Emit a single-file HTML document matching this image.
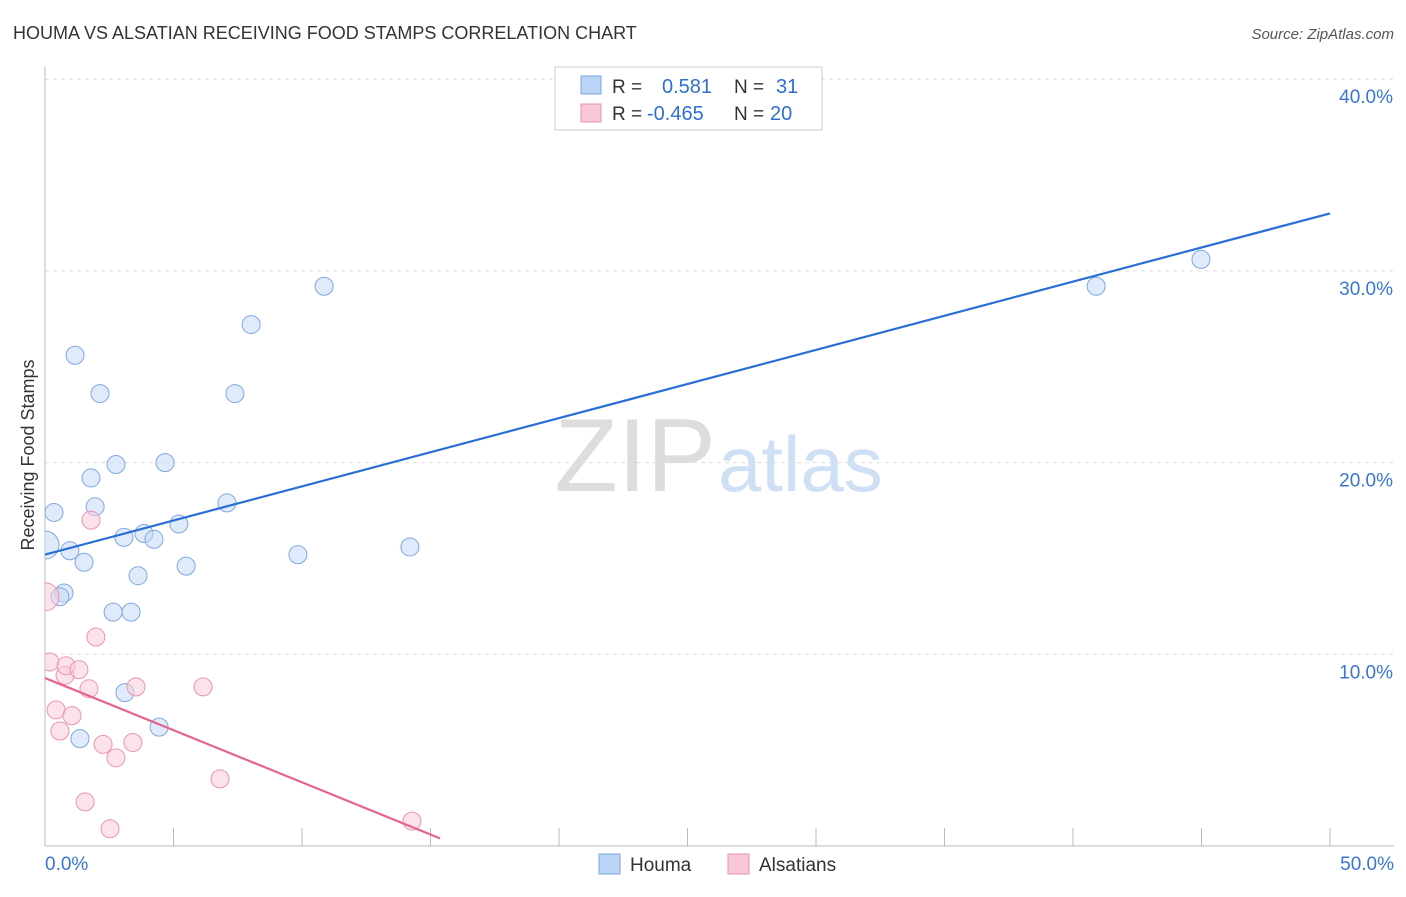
<!DOCTYPE html>
<html><head><meta charset="utf-8"><style>
body{margin:0;background:#fff;font-family:"Liberation Sans",sans-serif}
svg text{font-family:"Liberation Sans",sans-serif}
</style></head><body>
<svg width="1406" height="892" viewBox="0 0 1406 892" xmlns="http://www.w3.org/2000/svg">
<defs><clipPath id="plotclip"><rect x="45" y="0" width="1400" height="892"/></clipPath></defs>
<text x="13" y="39" font-size="18" fill="#333">HOUMA VS ALSATIAN RECEIVING FOOD STAMPS CORRELATION CHART</text>
<text x="1394" y="39" font-size="15" fill="#555" text-anchor="end" font-style="italic">Source: ZipAtlas.com</text>
<text x="716" y="491" font-size="104" text-anchor="end" fill="#ddd" font-family="Liberation Serif">ZIP</text>
<text x="718" y="491" font-size="78" fill="#cfe0f5">atlas</text>
<g id="grid"></g>
<g id="axes"></g>
<text transform="translate(34,455) rotate(-90)" font-size="18" fill="#333" text-anchor="middle">Receiving Food Stamps</text>
<g id="marks" clip-path="url(#plotclip)"></g>
<g>
<rect x="555" y="67" width="267" height="63" fill="#fff" stroke="#ccc"/>
<rect x="581" y="76" width="20" height="18" fill="#b9d4f5" stroke="#7aa6e0"/>
<rect x="581" y="104" width="20" height="18" fill="#f9c8d6" stroke="#e890ab"/>
<text x="612" y="93" font-size="19" fill="#333">R = </text><text x="662" y="93" font-size="20" fill="#2f6fd0">0.581</text>
<text x="734" y="93" font-size="19" fill="#333">N = </text><text x="776" y="93" font-size="20" fill="#2f6fd0">31</text>
<text x="612" y="120" font-size="19" fill="#333">R = </text><text x="647" y="120" font-size="20" fill="#2f6fd0">-0.465</text>
<text x="734" y="120" font-size="19" fill="#333">N = </text><text x="770" y="120" font-size="20" fill="#2f6fd0">20</text>
</g>
<g>
<rect x="599" y="854" width="21" height="20" fill="#b9d4f5" stroke="#7aa6e0"/>
<text x="630" y="871" font-size="19" fill="#333">Houma</text>
<rect x="728" y="854" width="21" height="20" fill="#f9c8d6" stroke="#e890ab"/>
<text x="759" y="871" font-size="19" fill="#333">Alsatians</text>
</g>
</svg>
<script>
const blueX=[0,0.35,1.17,2.14,1.79,2.76,1.95,0.97,1.52,0.74,0.58,3.07,3.85,4.24,4.67,5.21,3.62,5.49,2.65,3.35,3.11,4.44,1.36,7.08,7.39,8.02,10.86,9.84,14.2,40.9,44.98];
const blueY=[15.7,17.4,25.6,23.6,19.2,19.9,17.7,15.4,14.8,13.2,13.0,16.1,16.3,16.0,20.0,16.8,14.1,14.6,12.2,12.2,8.0,6.2,5.6,17.9,23.6,27.2,29.2,15.2,15.6,29.2,30.6];
const pinkX=[0,0.19,0.43,0.58,0.78,0.82,1.05,1.32,1.71,1.79,1.98,1.56,2.26,2.76,3.42,3.54,2.53,6.15,6.81,14.28];
const pinkY=[13.0,9.6,7.1,6.0,8.9,9.4,6.8,9.2,8.2,17.0,10.9,2.3,5.3,4.6,5.4,8.3,0.9,8.3,3.5,1.3];
const blueTrend=[[0,15.2],[50,33.0]];
const pinkTrend=[[0,8.76],[15.37,0.4]];
const yTicks=[10,20,30,40];
const xTicks=[0,5,10,15,20,25,30,35,40,45,50];
const NS="http://www.w3.org/2000/svg";
const sx=v=>45+v/50*1285, sy=v=>846-v*19.17;
function mk(tag,attrs,parent){const e=document.createElementNS(NS,tag);for(const k in attrs)e.setAttribute(k,attrs[k]);document.getElementById(parent).appendChild(e);return e;}
yTicks.forEach(t=>{
 const l=mk('line',{x1:45,x2:1394,y1:sy(t),y2:sy(t),stroke:'#ddd','stroke-dasharray':'4,4'},'grid');
 
 
 const tx=mk('text',{x:1393,y:sy(t)+24,'font-size':19,fill:'#3a76d0','text-anchor':'end'},'grid');
 tx.textContent=t.toFixed(1)+'%';
 
 
});
const ax=mk('line',{x1:45,x2:1394,y1:846,y2:846,stroke:'#bbb'},'axes');


const ay=mk('line',{x1:45,x2:45,y1:67,y2:846,stroke:'#bbb'},'axes');


xTicks.forEach(t=>{
 const l=mk('line',{x1:sx(t),x2:sx(t),y1:828,y2:846,stroke:'#bbb'},'axes');
 
 
});
[[0,'0.0%','start',45],[50,'50.0%','end',1394]].forEach(a=>{
 const tx=mk('text',{x:a[3],y:870,'font-size':19,fill:'#3a76d0','text-anchor':a[2]},'axes');
 tx.textContent=a[1];
 
 
});
function pts(X,Y,fill,stroke,name){X.forEach((x,i)=>{
 const r=(x===0)?14:9;
 const c=mk('circle',{cx:sx(x),cy:sy(Y[i]),r:r,fill:fill,'fill-opacity':0.55,stroke:stroke,'stroke-width':1},'marks');
 
 
});}
pts(blueX,blueY,'#c5daf5','#7ea8de','houma-point');
pts(pinkX,pinkY,'#f9cad8','#e996b0','alsatians-point');
const bl=mk('line',{x1:sx(blueTrend[0][0]),y1:sy(blueTrend[0][1]),x2:sx(blueTrend[1][0]),y2:sy(blueTrend[1][1]),stroke:'#2a6fd6','stroke-width':2.2},'marks');


const pl=mk('line',{x1:sx(pinkTrend[0][0]),y1:sy(pinkTrend[0][1]),x2:sx(pinkTrend[1][0]),y2:sy(pinkTrend[1][1]),stroke:'#e4638f','stroke-width':2.2},'marks');


</script>
</body></html>
